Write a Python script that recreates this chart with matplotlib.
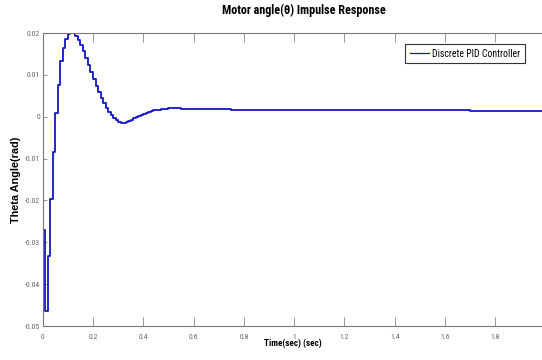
import numpy as np
import matplotlib
matplotlib.use("Agg")
import matplotlib.pyplot as plt
from matplotlib import font_manager

# sampled impulse response, dt = 0.01 s for the first 0.6 s
t_head = np.round(np.arange(0, 0.601, 0.01), 2)
y_head = [-0.0270, -0.0463, -0.0332, -0.0196, -0.0084, 0.0008, 0.0076, 0.0132,
          0.0165, 0.0185, 0.0197, 0.0201, 0.0199, 0.0193, 0.0183, 0.0171,
          0.0156, 0.0140, 0.0123, 0.0106, 0.0090, 0.0074, 0.0059, 0.0045,
          0.0032, 0.0021, 0.0011, 0.0003, -0.0004, -0.0009, -0.0013, -0.0015,
          -0.0015, -0.0013, -0.0010, -0.0007, -0.0004, -0.0001, 0.0002, 0.0004,
          0.0007, 0.0009, 0.0011, 0.0013, 0.0015, 0.0016, 0.0017, 0.0018,
          0.0019, 0.0019, 0.0020, 0.0020, 0.0020, 0.0020, 0.0020, 0.0019,
          0.0019, 0.0019, 0.0018, 0.0018, 0.0018]
# slow tail (steps too small to see)
t_tail = [0.75, 1.7, 2.0]
y_tail = [0.0016, 0.0014, 0.0014]

t = np.concatenate([[0.0], t_head, t_tail])
y = np.concatenate([[0.0], y_head, y_tail])

xticks = [0, 0.2, 0.4, 0.6, 0.8, 1, 1.2, 1.4, 1.6, 1.8]
xticklabels = ['0', '0.2', '0.4', '0.6', '0.8', '1', '1.2', '1.4', '1.6', '1.8']
yticks = [-0.05, -0.04, -0.03, -0.02, -0.01, 0, 0.01, 0.02]
yticklabels = ['-0.05', '-0.04', '-0.03', '-0.02', '-0.01', '0', '0.01', '0.02']

# look for a narrow face, like the original Arial Narrow look
names = {f.name for f in font_manager.fontManager.ttflist}
narrow_name = None
for cand in ['Liberation Sans Narrow', 'Arial Narrow', 'DejaVu Sans Condensed',
             'Roboto Condensed', 'Open Sans Condensed', 'Noto Sans Display']:
    if cand in names:
        narrow_name = cand
        break
if narrow_name is None:
    narrow = {'family': ['DejaVu Sans'], 'stretch': 'condensed'}
    squeeze = 0.8
else:
    narrow = {'family': [narrow_name, 'DejaVu Sans'], 'stretch': 'condensed'}
    squeeze = 1.0

fig = plt.figure(figsize=(5.42, 3.6), dpi=100)
ax = fig.add_axes([0.0788, 0.0944, 0.928, 0.8139])

ax.step(t, y, where='post', color='#1414c8', lw=1.3, label='Discrete PID Controller')

ax.set_xlim(0, 2)
ax.set_ylim(-0.05, 0.02)
ax.set_xticks(xticks)
ax.set_xticklabels(xticklabels, fontsize=5.5 * squeeze, color='#666666', **narrow)
ax.set_yticks(yticks)
ax.set_yticklabels(yticklabels, fontsize=5.5 * squeeze, color='#666666', **narrow)
ax.tick_params(axis='x', direction='in', length=6.5, width=0.6, color='#888888',
               top=True, pad=6)
ax.tick_params(axis='y', direction='in', length=3, width=0.6, color='#888888',
               right=True, pad=2)
for s in ax.spines.values():
    s.set_color('#777777')
    s.set_linewidth(0.8)

fig.text(0.56, 0.972, 'Motor angle(\u03b8) Impulse Response', ha='center', va='center',
         fontsize=8.7 * squeeze, fontweight='bold', **narrow)
fig.text(0.541, 0.045, 'Time(sec) (sec)', ha='center', va='center',
         fontsize=6.6 * squeeze, fontweight='bold', **narrow)
fig.text(0.029, 0.5, 'Theta Angle(rad)', ha='center', va='center', rotation=90,
         family=['Liberation Sans', 'DejaVu Sans'], fontsize=7.8, fontweight='bold')

leg = ax.legend(loc='upper right', bbox_to_anchor=(0.969, 0.98), fancybox=False,
                prop=dict(size=7 * squeeze, **narrow), handlelength=2.0,
                borderpad=0.5, handletextpad=0.3, framealpha=1)
leg.get_frame().set_edgecolor('#333333')
leg.get_frame().set_linewidth(0.8)
for line in leg.get_lines():
    line.set_linewidth(0.9)

fig.savefig('out.png', dpi=100)
